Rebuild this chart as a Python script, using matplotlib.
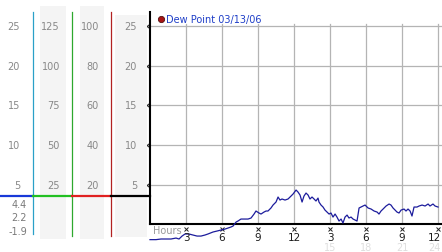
import matplotlib
matplotlib.use("Agg")
import matplotlib.pyplot as plt
import matplotlib.transforms as mtransforms
import matplotlib.patches as mpatches
import numpy as np

W, H = 442, 253

# dew point trace, 03/13/06 (hours from midnight, deg C)
hours = [0.00, 0.50, 0.92, 1.33, 1.75, 2.17, 2.42, 2.67, 2.92, 3.25, 3.58, 3.92,
         4.25, 4.58, 4.83, 5.25, 5.58, 5.92, 6.25, 6.50, 6.75, 6.92, 7.17, 7.33,
         7.58, 7.83, 8.17, 8.42, 8.67, 8.83, 9.08, 9.25, 9.50, 9.67, 9.83, 10.08,
         10.25, 10.50, 10.67, 10.83, 11.00, 11.25, 11.50, 11.75, 11.92, 12.17,
         12.33, 12.50, 12.67, 12.83, 13.00, 13.17, 13.33, 13.50, 13.67, 13.83,
         14.00, 14.08, 14.25, 14.42, 14.58, 14.75, 14.92, 15.08, 15.25, 15.42,
         15.58, 15.75, 15.92, 16.08, 16.25, 16.42, 16.58, 16.75, 16.92, 17.08,
         17.25, 17.42, 17.58, 17.75, 17.92, 18.17, 18.42, 18.67, 18.92, 19.08,
         19.25, 19.42, 19.67, 19.92, 20.08, 20.25, 20.42, 20.58, 20.75, 20.92,
         21.17, 21.33, 21.50, 21.67, 21.83, 22.00, 22.25, 22.42, 22.67, 22.92,
         23.17, 23.33, 23.58, 23.75, 24.00]
dewpoint = [-1.9, -1.9, -1.82, -1.82, -1.82, -1.70, -1.82, -1.45, -1.19, -1.19,
            -1.32, -1.45, -1.45, -1.32, -1.19, -0.94, -0.82, -0.69, -0.57, -0.44,
            -0.31, -0.19, 0.31, 0.44, 0.69, 0.69, 0.69, 0.82, 1.32, 1.70, 1.45,
            1.32, 1.57, 1.70, 1.70, 2.08, 2.45, 2.83, 3.46, 3.08, 3.21, 3.08, 3.21,
            3.58, 3.84, 4.34, 4.09, 3.71, 2.83, 3.58, 3.96, 3.71, 3.21, 3.46, 3.21,
            2.96, 3.33, 2.83, 2.45, 2.20, 1.82, 1.57, 1.32, 1.45, 0.94, 1.32, 0.94,
            0.44, 0.69, 0.19, 0.94, 1.19, 0.82, 0.94, 0.69, 0.57, 0.44, 2.08, 2.20,
            2.33, 2.45, 2.08, 1.95, 1.70, 1.57, 1.32, 1.70, 1.95, 2.33, 2.58, 2.45,
            2.08, 1.82, 1.57, 1.45, 1.82, 1.95, 1.70, 1.95, 1.70, 1.07, 2.20, 2.20,
            2.33, 2.45, 2.33, 2.58, 2.33, 2.58, 2.33, 2.20]

xticks = [3, 6, 9, 12, 15, 18, 21, 24]
xlabels = ["3", "6", "9", "12", "3", "6", "9", "12"]
xlabels_24 = ["15", "18", "21", "24"]
yticks = [5, 10, 15, 20, 25]
scale1 = ["5", "10", "15", "20", "25"]
scale2 = ["25", "50", "75", "100", "125"]
scale3 = ["20", "40", "60", "80", "100"]
scale4 = ["5", "10", "15", "20", "25"]
stats = ["4.4", "2.2", "-1.9"]
current = 3.6

fig = plt.figure(figsize=(W / 100, H / 100), dpi=100)
fig.patch.set_facecolor("white")

# pixel coords measured from top-left
pix = mtransforms.Affine2D().scale(1 / W, -1 / H).translate(0, 1) + fig.transFigure

ax = fig.add_axes([150 / W, (H - 224.5) / H, (W - 150) / W, (224.5 - 13) / H])
ax.set_xlim(0, 24.33)
ax.set_ylim(0.13, 26.73)
ax.patch.set_alpha(0)
for s in ["top", "right"]:
    ax.spines[s].set_visible(False)
ax.spines["left"].set_linewidth(1.5)
ax.spines["bottom"].set_linewidth(1.5)
ax.set_xticks([])
ax.set_yticks([])

for t in xticks:
    ax.plot([t, t], [0.13, 25.25], color="#b4b4b4", lw=0.9, zorder=1)
for v in yticks:
    ax.plot([0, 24.33], [v, v], color="#b4b4b4", lw=0.9, zorder=1)

ax.plot(hours, dewpoint, color="#1c1c9c", lw=0.9, clip_on=False, zorder=3)

xpix = mtransforms.blended_transform_factory(ax.transData, pix)
ypix = mtransforms.blended_transform_factory(pix, ax.transData)

# tick marks and labels along the bottom
ax.plot(xticks, [230] * len(xticks), "x", ms=2.2, mew=0.7, color="#222222",
        transform=xpix, clip_on=False)
for t, lab in zip(xticks, xlabels):
    if t == xticks[-1]:
        ax.text(441, 238.5, lab, transform=pix, ha="right", va="center",
                fontsize=7.5, color="#1a1a1a")
    else:
        ax.text(t, 238.5, lab, transform=xpix, ha="center", va="center",
                fontsize=7.5, color="#1a1a1a")
for t, lab in zip(xticks[4:], xlabels_24):
    if t == xticks[-1]:
        ax.text(441, 248.5, lab, transform=pix, ha="right", va="center",
                fontsize=7, color="#dedede")
    else:
        ax.text(t, 248.5, lab, transform=xpix, ha="center", va="center",
                fontsize=7, color="#dedede")
ax.text(153, 231.5, "Hours", transform=pix, ha="left", va="center",
        fontsize=7, color="#999999")

ax.plot([147] * len(yticks), yticks, "x", ms=2.2, mew=0.7, color="#222222",
        transform=ypix, clip_on=False)

# legend
ax.plot([161], [20], "o", ms=4.5, mfc="#a81414", mec="#501010", mew=0.6,
        transform=pix, clip_on=False)
ax.text(166, 20.5, "Dew Point 03/13/06", transform=pix, ha="left", va="center",
        fontsize=7, color="#1e3ec8")

# left multi-scale panel
for x0, x1, y0, y1 in [(40, 66, 7, 240), (80, 104, 7, 240), (115, 147, 16, 238)]:
    fig.patches.append(mpatches.Rectangle((x0, y0), x1 - x0, y1 - y0,
                       transform=pix, facecolor="#f4f4f4", edgecolor="none",
                       zorder=0))

for x, c, yb in [(33, "#2aa0c8", 235), (72, "#2ea82e", 237), (111, "#b22222", 237)]:
    fig.add_artist(plt.Line2D([x, x], [13, yb], transform=pix, color=c, lw=0.9))

for x0, x1, c in [(0, 33, "#1838d8"), (33, 72, "#22c022"), (72, 111, "#e02020"),
                  (111, 150, "#000000")]:
    fig.add_artist(plt.Line2D([x0, x1], [current, current], transform=ypix,
                              color=c, lw=1.6))

for xr, labs in [(20, scale1), (60, scale2), (99, scale3), (137, scale4)]:
    for v, lab in zip(yticks, labs):
        fig.text(xr, v, lab, transform=ypix, ha="right", va="center",
                 fontsize=7, color="#888888")

for yy, lab in zip([205, 218, 232], stats):
    fig.text(27, yy, lab, transform=pix, ha="right", va="center",
             fontsize=7, color="#7a7a7a")

fig.savefig("out.png", dpi=100)
